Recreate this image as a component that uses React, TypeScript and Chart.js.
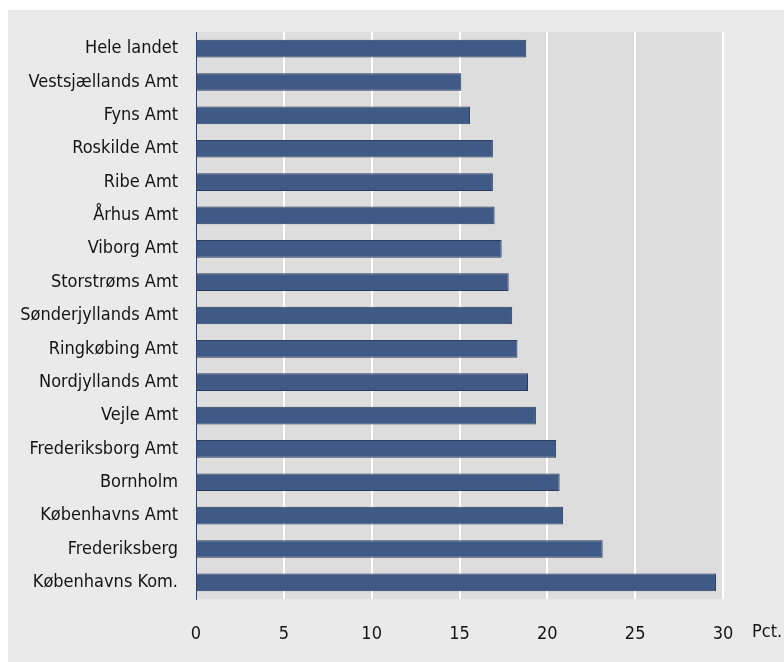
import React, { useEffect, useRef } from 'react';
import { Chart, registerables } from 'chart.js';

Chart.register(...registerables);

const categories = [
  'Hele landet',
  'Vestsjællands Amt',
  'Fyns Amt',
  'Roskilde Amt',
  'Ribe Amt',
  'Århus Amt',
  'Viborg Amt',
  'Storstrøms Amt',
  'Sønderjyllands Amt',
  'Ringkøbing Amt',
  'Nordjyllands Amt',
  'Vejle Amt',
  'Frederiksborg Amt',
  'Bornholm',
  'Københavns Amt',
  'Frederiksberg',
  'Københavns Kom.',
];

const values = [
  18.8, 15.1, 15.6, 16.9, 16.9, 17.0, 17.4, 17.8, 18.0, 18.3, 18.9, 19.35, 20.5, 20.7, 20.9, 23.15, 29.6,
];

const xTicks = [0, 5, 10, 15, 20, 25, 30];
const unitLabel = 'Pct.';

const FONT = "'DejaVu Sans Condensed', 'Liberation Sans Narrow', sans-serif";
const FONT_SIZE = 18;
const TEXT_COLOR = '#141414';

const plotBg = {
  id: 'plotBg',
  beforeDraw(chart: any) {
    const { ctx, chartArea } = chart;
    ctx.save();
    ctx.fillStyle = '#DDDDDD';
    ctx.fillRect(chartArea.left, chartArea.top, chartArea.right - chartArea.left, chartArea.bottom - chartArea.top);
    ctx.restore();
  },
};

const unitPlugin = {
  id: 'unitLabel',
  afterDraw(chart: any) {
    const { ctx, chartArea } = chart;
    const xs = chart.scales.x;
    ctx.save();
    ctx.font = `${FONT_SIZE}px ${FONT}`;
    ctx.fillStyle = TEXT_COLOR;
    ctx.textAlign = 'left';
    ctx.textBaseline = 'middle';
    ctx.fillText(unitLabel, xs.getPixelForValue(xTicks[xTicks.length - 1]) + 29, chartArea.bottom + 33);
    ctx.restore();
  },
};

export default function App() {
  const ref = useRef<HTMLCanvasElement | null>(null);

  useEffect(() => {
    if (!ref.current) return;
    const chart = new Chart(ref.current, {
      type: 'bar',
      data: {
        labels: categories,
        datasets: [
          {
            data: values,
            backgroundColor: '#3F5A86',
            borderColor: '#2B3C5C',
            borderWidth: 1,
            categoryPercentage: 1,
            barPercentage: 0.53,
          },
        ],
      },
      options: {
        indexAxis: 'y',
        responsive: false,
        animation: false,
        devicePixelRatio: 1,
        layout: { padding: { top: 22, right: 61, left: 0, bottom: 0 } },
        plugins: {
          legend: { display: false },
          tooltip: { enabled: false },
        },
        scales: {
          x: {
            min: xTicks[0],
            max: xTicks[xTicks.length - 1],
            afterBuildTicks: (scale: any) => {
              scale.ticks = xTicks.map((v) => ({ value: v }));
            },
            ticks: {
              padding: 25,
              color: TEXT_COLOR,
              font: { family: FONT, size: FONT_SIZE },
              autoSkip: false,
              maxRotation: 0,
            },
            grid: {
              color: (ctx: any) => (ctx.tick && ctx.tick.value === 0 ? 'rgba(0,0,0,0)' : '#FFFFFF'),
              lineWidth: 2,
              drawTicks: false,
            },
            border: { display: false },
            afterFit: (scale: any) => {
              scale.height = 63;
              scale.paddingLeft = 0;
              scale.paddingRight = 0;
            },
          },
          y: {
            ticks: {
              padding: 18,
              color: TEXT_COLOR,
              font: { family: FONT, size: FONT_SIZE },
              autoSkip: false,
            },
            grid: { display: false, drawTicks: false },
            border: { display: true, color: '#34476B', width: 1 },
            afterFit: (scale: any) => {
              scale.width = 188;
              scale.paddingTop = 0;
              scale.paddingBottom = 0;
            },
          },
        },
      },
      plugins: [plotBg, unitPlugin],
    });
    return () => chart.destroy();
  }, []);

  return (
    <div
      style={{
        position: 'absolute',
        left: 8,
        top: 10,
        width: 776,
        height: 652,
        background: '#EAEAEA',
      }}
    >
      <canvas ref={ref} width={776} height={652} style={{ display: 'block', width: 776, height: 652 }} />
    </div>
  );
}
